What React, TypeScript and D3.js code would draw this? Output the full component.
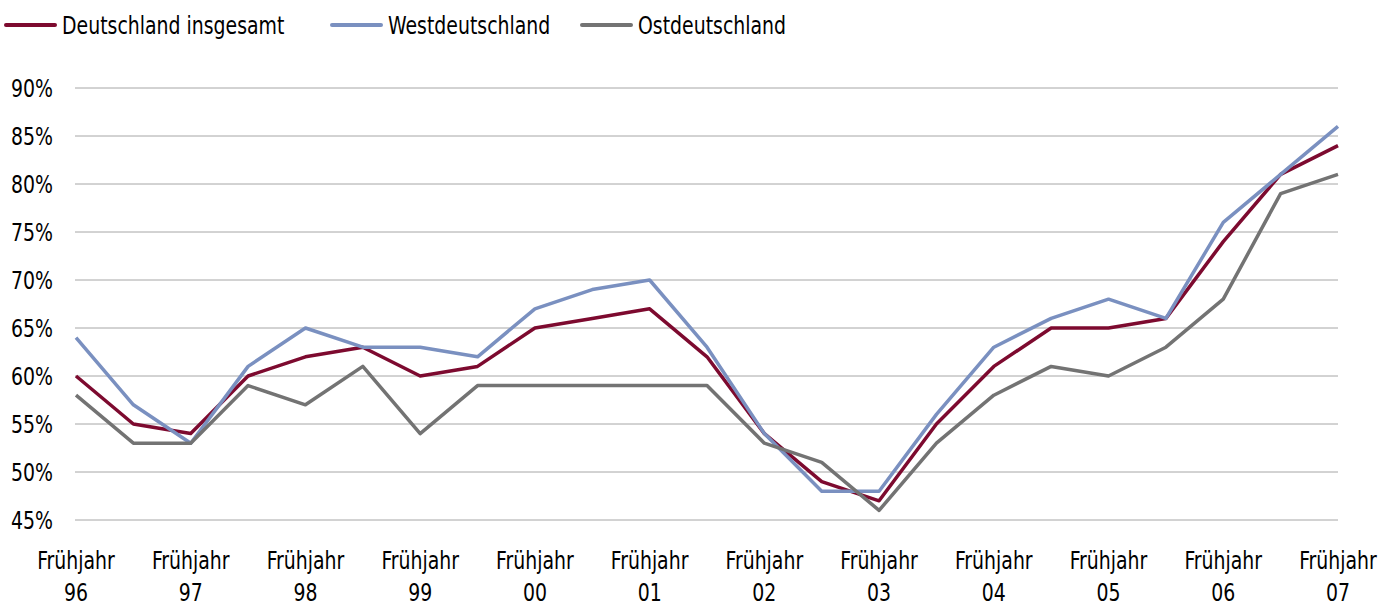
import React from "react";
import * as d3 from "d3";

const periods = ["96","96H","97","97H","98","98H","99","99H","00","00H","01","01H","02","02H","03","03H","04","04H","05","05H","06","06H","07"];
const tickYears = ["96","97","98","99","00","01","02","03","04","05","06","07"];
const gesamt = [60,55,54,60,62,63,60,61,65,66,67,62,54,49,47,55,61,65,65,66,74,81,84];
const west = [64,57,53,61,65,63,63,62,67,69,70,63,54,48,48,56,63,66,68,66,76,81,86];
const ost = [58,53,53,59,57,61,54,59,59,59,59,59,53,51,46,53,58,61,60,63,68,79,81];
const yTicks = [45,50,55,60,65,70,75,80,85,90];

const seriesList = [
  { name: "Deutschland insgesamt", values: gesamt, color: "#7d0a2f" },
  { name: "Westdeutschland", values: west, color: "#7a90c0" },
  { name: "Ostdeutschland", values: ost, color: "#737373" },
];

const FONT = "'DejaVu Sans Condensed', 'DejaVu Sans', sans-serif";
const SX = 0.84;

function T({ x, y, anchor = "start", children }: { x: number; y: number; anchor?: string; children: React.ReactNode }) {
  return (
    <g transform={`translate(${x},${y}) scale(${SX},1)`}>
      <text x={0} y={0} textAnchor={anchor as any} fontSize={25} fill="#000">{children}</text>
    </g>
  );
}

export default function App() {
  const W = 1396, H = 606;
  const x = d3.scalePoint<number>().domain(d3.range(periods.length)).range([76, 1338]);
  const y = d3.scaleLinear().domain([45, 90]).range([520, 88]);
  const line = d3.line<number>().x((_, i) => x(i)!).y(d => y(d));
  const legendX = [6, 332, 582];
  return (
    <svg width={W} height={H} style={{ position: "absolute", left: 0, top: 0 }} fontFamily={FONT}>
      <rect width={W} height={H} fill="#fff" />
      {yTicks.map(t => (
        <g key={t}>
          <line x1={75} x2={1338} y1={y(t)} y2={y(t)} stroke="#a6a6a6" strokeWidth={1} />
          <T x={53} y={y(t) + 9} anchor="end">{t}%</T>
        </g>
      ))}
      {tickYears.map((yr, k) => (
        <g key={yr}>
          <T x={x(k * 2)!} y={569} anchor="middle">Frühjahr</T>
          <T x={x(k * 2)!} y={601} anchor="middle">{yr}</T>
        </g>
      ))}
      {seriesList.map(s => (
        <path key={s.name} d={line(s.values)!} fill="none" stroke={s.color} strokeWidth={3.5} strokeLinejoin="round" />
      ))}
      {seriesList.map((s, i) => (
        <g key={s.name}>
          <line x1={legendX[i]} x2={legendX[i] + 49} y1={25} y2={25} stroke={s.color} strokeWidth={4} strokeLinecap="round" />
          <T x={legendX[i] + 56} y={34}>{s.name}</T>
        </g>
      ))}
    </svg>
  );
}
